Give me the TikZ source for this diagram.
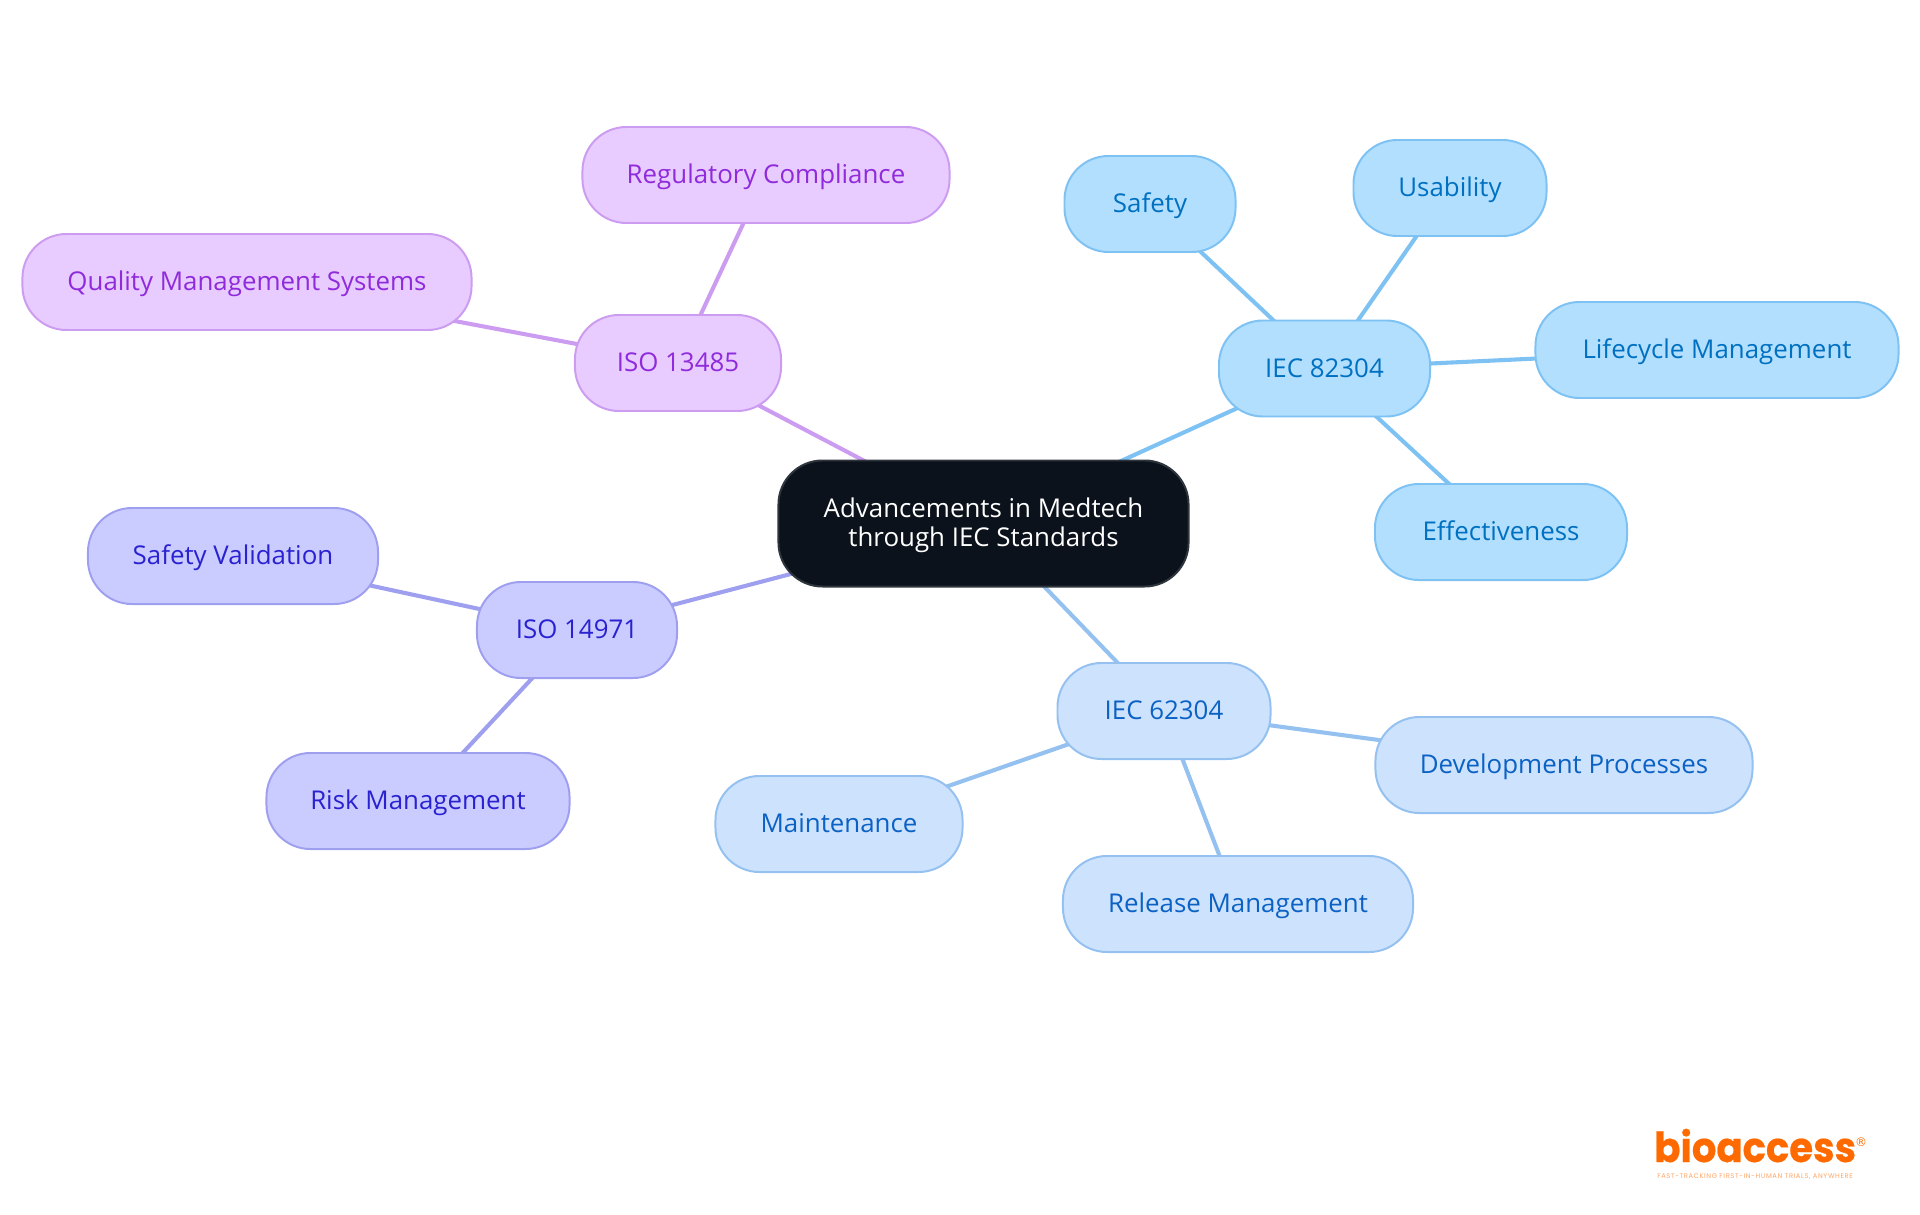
\documentclass[tikz,border=0pt]{standalone}
\usepackage{fontspec}
\setmainfont{Open Sans}
\newfontfamily\logofont[BoldFeatures={FakeBold=0.5,FakeStretch=0.93}]{Poppins}
\newfontfamily\markfont{DejaVu Sans}
\usetikzlibrary{backgrounds}
\definecolor{rootfill}{HTML}{0B121B}
\definecolor{rootline}{HTML}{2F353D}
\definecolor{skyfill}{HTML}{B3DFFF}
\definecolor{skyline}{HTML}{7DC2F3}
\definecolor{skytext}{HTML}{0070C0}
\definecolor{bluefill}{HTML}{CDE2FC}
\definecolor{blueline}{HTML}{94C1F0}
\definecolor{bluetext}{HTML}{0B62C4}
\definecolor{violetfill}{HTML}{CACBFF}
\definecolor{violetline}{HTML}{9F9FF0}
\definecolor{violettext}{HTML}{2A22D0}
\definecolor{purplefill}{HTML}{E8CBFF}
\definecolor{purpleline}{HTML}{CC9CF0}
\definecolor{purpletext}{HTML}{8F2BDB}
\definecolor{logoorange}{HTML}{FF6A00}
\tikzset{
  topic/.style={draw, line width=1.4pt, rounded corners=1.1cm, minimum height=2.4cm,
    inner sep=0pt, text height=17pt, text depth=4.8pt, font=\fontsize{18.4}{21}\selectfont},
  sky/.style={topic, fill=skyfill, draw=skyline, text=skytext},
  blue/.style={topic, fill=bluefill, draw=blueline, text=bluetext},
  violet/.style={topic, fill=violetfill, draw=violetline, text=violettext},
  purple/.style={topic, fill=purplefill, draw=purpleline, text=purpletext},
  link/.style={line width=2.9pt}
}
\begin{document}
\begin{tikzpicture}[x=0.025cm, y=-0.025cm]
\useasboundingbox (0,0) rectangle (1920,1215);

% centre
\node[draw=rootline, fill=rootfill, text=white, line width=1.4pt, rounded corners=1.1cm, minimum width=10.25cm, minimum height=3.15cm,
  inner sep=0pt, align=center, font=\fontsize{18.4}{20.9}\selectfont] (root) at (983.5,523.5) {\rule{0pt}{16.7pt}Advancements in Medtech\\through IEC Standards};

% branches
\node[sky, minimum width=5.275cm] (iecA) at (1324.5,368.5) {IEC 82304};
\node[blue, minimum width=5.325cm] (iecB) at (1164,711) {IEC 62304};
\node[violet, minimum width=5cm] (isoA) at (577,630) {ISO 14971};
\node[purple, minimum width=5.15cm] (isoB) at (678,363) {ISO 13485};

% leaves
\node[sky, minimum width=4.275cm] (safety) at (1150,204) {Safety};
\node[sky, minimum width=4.825cm] (usability) at (1450,188) {Usability};
\node[sky, minimum width=9.075cm] (lifecycle) at (1717,350) {Lifecycle Management};
\node[sky, minimum width=6.3cm] (effect) at (1501,532) {Effectiveness};
\node[blue, minimum width=9.425cm] (devel) at (1564,765) {Development Processes};
\node[blue, minimum width=8.75cm] (release) at (1238,904) {Release Management};
\node[blue, minimum width=6.175cm] (maint) at (839,824) {Maintenance};
\node[violet, minimum width=7.25cm] (valid) at (233,556) {Safety Validation};
\node[violet, minimum width=7.575cm] (risk) at (418,801) {Risk Management};
\node[purple, minimum width=9.175cm] (regul) at (766,175) {Regulatory Compliance};
\node[purple, minimum width=11.225cm] (quality) at (247,282) {Quality Management Systems};

% links
\begin{scope}[on background layer]
\foreach \a/\b in {root/iecA, iecA/safety, iecA/usability, iecA/lifecycle, iecA/effect}
  \draw[link, skyline] (\a.center) -- (\b.center);
\foreach \a/\b in {root/iecB, iecB/devel, iecB/release, iecB/maint}
  \draw[link, blueline] (\a.center) -- (\b.center);
\foreach \a/\b in {root/isoA, isoA/valid, isoA/risk}
  \draw[link, violetline] (\a.center) -- (\b.center);
\foreach \a/\b in {root/isoB, isoB/regul, isoB/quality}
  \draw[link, purpleline] (\a.center) -- (\b.center);
\end{scope}

% logo
\node[text=logoorange, inner sep=0pt, anchor=base west, font=\logofont\bfseries\fontsize{29.5}{30}\selectfont] (logo) at (1654,1162) {bioaccess};
\node[text=logoorange, inner sep=0pt, anchor=center, font=\markfont\fontsize{8.5}{9}\selectfont] (mark) at (1861,1142) {®};
\node[text=logoorange!60, inner sep=0pt, anchor=center, font=\logofont\addfontfeature{LetterSpace=9}\fontsize{4.8}{5}\selectfont] (tagline) at (1755,1177) {FAST-TRACKING FIRST-IN-HUMAN TRIALS, ANYWHERE};
\end{tikzpicture}
\end{document}
